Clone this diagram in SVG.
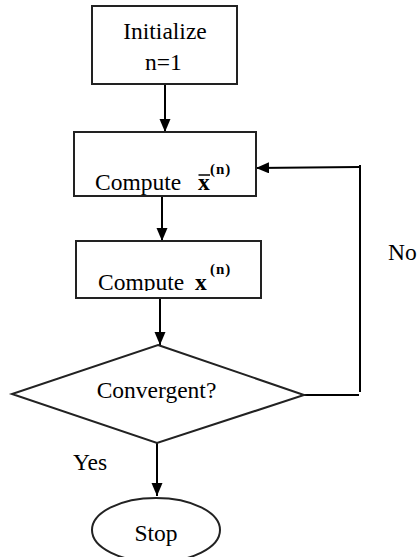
<svg xmlns="http://www.w3.org/2000/svg" width="418" height="557" viewBox="0 0 418 557">
  <style>
    .shape { fill: #fff; stroke: #222; stroke-width: 2; }
    .wire { fill: none; stroke: #000; stroke-width: 2; }
    .lbl { font-family: 'Liberation Serif', 'Times New Roman', 'DejaVu Serif', serif; font-size: 23.5px; fill: #000; }
    .mid { text-anchor: middle; }
    .b { font-weight: bold; }
    .sup { font-size: 15px; font-weight: bold; letter-spacing: 1px; }
  </style>
  <defs>
    <marker id="arrow" markerUnits="userSpaceOnUse" markerWidth="14" markerHeight="12" refX="13" refY="5.5" orient="auto">
      <path d="M0,0 L13,5.5 L0,11 z" fill="#000"/>
    </marker>
    <!-- text of the second compute box is cut just under its baseline -->
    <clipPath id="clip-xn">
      <rect x="70" y="240" width="200" height="51"/>
    </clipPath>
  </defs>

  <rect width="418" height="557" fill="#fff"/>

  <g id="connectors">
    <line class="wire" x1="165" y1="84" x2="165" y2="132" marker-end="url(#arrow)"/>
    <line class="wire" x1="162" y1="196" x2="162" y2="241" marker-end="url(#arrow)"/>
    <line class="wire" x1="160" y1="298" x2="160" y2="345" marker-end="url(#arrow)"/>
    <line class="wire" x1="157" y1="443" x2="157" y2="496" marker-end="url(#arrow)"/>
    <polyline class="wire" points="304,395 359,395"/>
    <line class="wire" x1="360" y1="392" x2="360" y2="165"/>
    <line class="wire" x1="359" y1="167" x2="256" y2="168" marker-end="url(#arrow)"/>
    <text class="lbl" x="73" y="470">Yes</text>
    <text class="lbl" x="388" y="260">No</text>
  </g>

  <g id="init">
    <rect class="shape" x="92" y="6" width="145" height="78"/>
    <text class="lbl mid" x="165" y="39">Initialize</text>
    <text class="lbl mid" x="163.5" y="70">n=1</text>
  </g>

  <g id="compute-xbar">
    <rect class="shape" x="74" y="132" width="182" height="64"/>
    <text class="lbl" x="95" y="190">Compute<tspan class="b" x="198">x</tspan><tspan class="sup" x="210" y="174">(n)</tspan></text>
    <line x1="198.5" y1="175" x2="210" y2="175" stroke="#000" stroke-width="1.5"/>
  </g>

  <g id="compute-x">
    <rect class="shape" x="76" y="241" width="185" height="57"/>
    <text class="lbl" x="98" y="290" clip-path="url(#clip-xn)">Compute<tspan class="b" x="195">x</tspan><tspan class="sup" x="210" y="274">(n)</tspan></text>
  </g>

  <g id="convergent">
    <polygon class="shape" points="158,345 304,395 157,443 12,394"/>
    <text class="lbl mid" x="156.5" y="398">Convergent?</text>
  </g>

  <g id="stop">
    <ellipse class="shape" cx="156" cy="530" rx="64" ry="32"/>
    <text class="lbl mid" x="156" y="541">Stop</text>
  </g>
</svg>
